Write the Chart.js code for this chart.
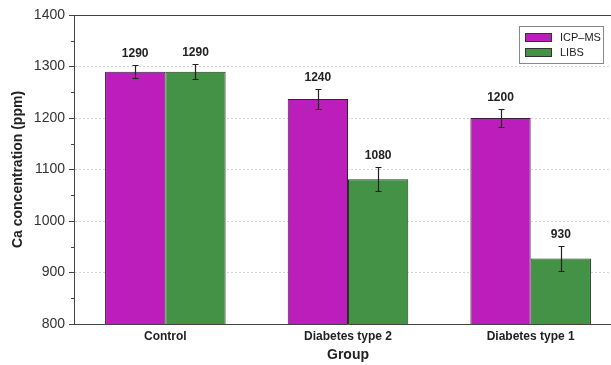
<!DOCTYPE html>
<html>
<head>
<meta charset="utf-8">
<script src="https://cdn.jsdelivr.net/npm/chart.js@4/dist/chart.umd.min.js"></script>
<style>
html,body{margin:0;padding:0;background:#fff;overflow:hidden;}
#wrap{width:611px;height:365px;overflow:hidden;}
</style>
</head>
<body>
<div id="wrap"><canvas id="c" width="622" height="365"></canvas></div>
<script>
const categories = ["Control", "Diabetes type 2", "Diabetes type 1"];
const seriesNames = ["ICP\u2013MS", "LIBS"];
const icpValues = [1290, 1237, 1200];
const libsValues = [1290, 1081, 927];
const icpErrors = [13, 19, 18];
const libsErrors = [15, 23, 25];
const icpLabels = ["1290", "1240", "1200"];
const libsLabels = ["1290", "1080", "930"];
const yTicks = [800, 900, 1000, 1100, 1200, 1300, 1400];

const FONT = "'Liberation Sans', Arial, sans-serif";

const extrasPlugin = {
  id: 'extras',
  afterDatasetsDraw(chart) {
    const ctx = chart.ctx;
    const ca = chart.chartArea;
    const y = chart.scales.y;
    ctx.save();
    ctx.setLineDash([]);
    // top border line
    ctx.strokeStyle = '#444';
    ctx.lineWidth = 1;
    ctx.beginPath();
    ctx.moveTo(ca.left, Math.round(ca.top) + 0.5);
    ctx.lineTo(ca.right, Math.round(ca.top) + 0.5);
    ctx.stroke();
    // minor ticks
    for (let i = 0; i < yTicks.length - 1; i++) {
      const v = (yTicks[i] + yTicks[i + 1]) / 2;
      const py = Math.round(y.getPixelForValue(v)) + 0.5;
      ctx.beginPath();
      ctx.moveTo(ca.left - 3, py);
      ctx.lineTo(ca.left, py);
      ctx.stroke();
    }
    // error bars and value labels
    chart.data.datasets.forEach((ds, di) => {
      const meta = chart.getDatasetMeta(di);
      meta.data.forEach((bar, i) => {
        const v = ds.data[i];
        const e = ds.errors[i];
        const yt = Math.round(y.getPixelForValue(v + e)) + 0.5;
        const yb = Math.round(y.getPixelForValue(v - e)) + 0.5;
        const x = Math.round(bar.x) + 0.5;
        ctx.strokeStyle = '#222';
        ctx.lineWidth = 1.2;
        ctx.beginPath();
        ctx.moveTo(x, yt); ctx.lineTo(x, yb);
        ctx.moveTo(x - 3, yt); ctx.lineTo(x + 3, yt);
        ctx.moveTo(x - 3, yb); ctx.lineTo(x + 3, yb);
        ctx.stroke();
        ctx.fillStyle = '#222';
        ctx.font = "bold 12px " + FONT;
        ctx.textAlign = 'center';
        ctx.textBaseline = 'bottom';
        ctx.fillText(ds.valueLabels[i], bar.x, yt - 6);
      });
    });
    // legend
    const lx = 519, ly = 26, lw = 84, lh = 37;
    ctx.fillStyle = '#fff';
    ctx.fillRect(lx, ly, lw, lh);
    ctx.strokeStyle = '#888';
    ctx.lineWidth = 1;
    ctx.strokeRect(lx + 0.5, ly + 0.5, lw, lh);
    chart.data.datasets.forEach((ds, di) => {
      const sy = ly + 7 + di * 15;
      ctx.fillStyle = ds.backgroundColor;
      ctx.fillRect(lx + 6, sy, 27, 9);
      ctx.strokeStyle = '#333';
      ctx.strokeRect(lx + 6.5, sy + 0.5, 26, 8);
      ctx.fillStyle = '#222';
      ctx.font = "11px " + FONT;
      ctx.textAlign = 'left';
      ctx.textBaseline = 'middle';
      ctx.fillText(ds.label, lx + 41, sy + 5);
    });
    ctx.restore();
  }
};

new Chart(document.getElementById('c'), {
  type: 'bar',
  data: {
    labels: categories,
    datasets: [
      { label: seriesNames[0], data: icpValues, errors: icpErrors, valueLabels: icpLabels,
        backgroundColor: 'rgb(188,30,188)', borderColor: '#3a203a', borderWidth: 1, borderSkipped: false },
      { label: seriesNames[1], data: libsValues, errors: libsErrors, valueLabels: libsLabels,
        backgroundColor: 'rgb(68,146,70)', borderColor: '#1f3a20', borderWidth: 1, borderSkipped: false }
    ]
  },
  options: {
    responsive: false,
    animation: false,
    layout: { padding: { top: 15, right: 0, bottom: 0, left: 0 } },
    plugins: { legend: { display: false }, tooltip: { enabled: false } },
    datasets: { bar: { categoryPercentage: 0.66, barPercentage: 1.0 } },
    scales: {
      x: {
        grid: { display: false, drawTicks: false },
        border: { color: '#444', width: 1 },
        ticks: { color: '#222', font: { family: FONT, size: 12, weight: 'bold' }, padding: 5 },
        title: { display: true, text: 'Group', color: '#222', font: { family: FONT, size: 14, weight: 'bold' }, padding: { top: 3, bottom: 1 } },
        afterFit(scale) { scale.height = 41; }
      },
      y: {
        min: 800, max: 1400,
        afterBuildTicks(scale) { scale.ticks = yTicks.map(v => ({ value: v })); },
        grid: {
          color: ctx => (ctx.tick && (ctx.tick.value === 800 || ctx.tick.value === 1400)) ? 'rgba(0,0,0,0)' : '#d4d4d4',
          tickColor: '#444',
          tickLength: 5,
          lineWidth: 1,
          tickBorderDash: [],
        },
        border: { color: '#444', width: 1, dash: [2, 2] },
        ticks: { color: '#333', font: { family: FONT, size: 14 }, padding: 4, callback: v => String(v) },
        title: { display: true, text: 'Ca concentration (ppm)', color: '#222', font: { family: FONT, size: 14, weight: 'bold' }, padding: { top: 10, bottom: 4 } },
        afterFit(scale) { scale.width = 74; }
      }
    }
  },
  plugins: [extrasPlugin]
});
</script>
</body>
</html>
